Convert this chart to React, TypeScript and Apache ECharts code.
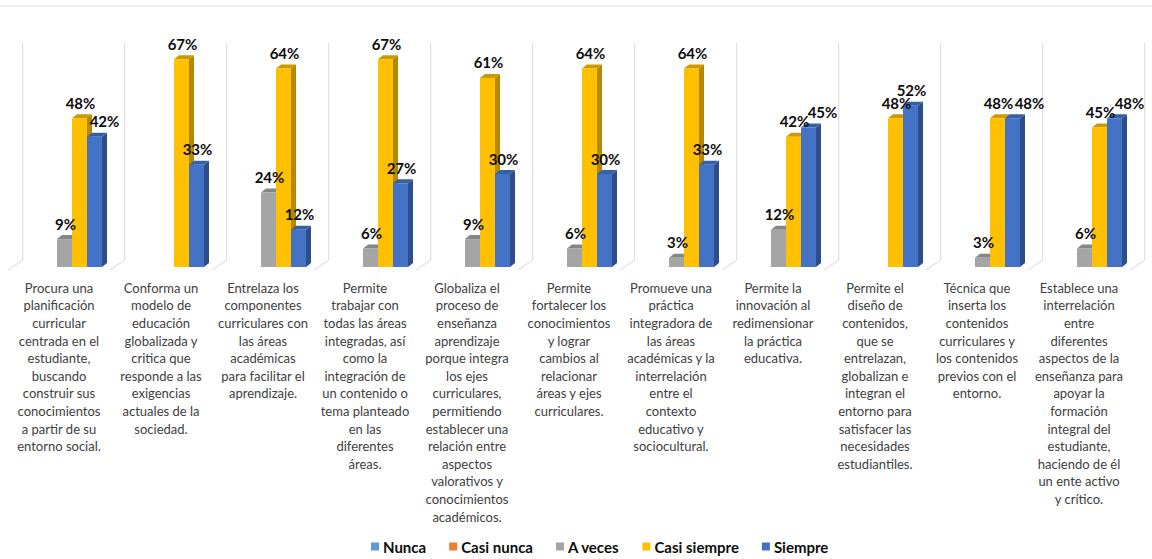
import React, { useEffect, useRef } from "react";
import * as echarts from "echarts";

const categories = [
  "Procura una\nplanificación\ncurricular\ncentrada en el\nestudiante,\nbuscando\nconstruir sus\nconocimientos\na partir de su\nentorno social.",
  "Conforma un\nmodelo de\neducación\nglobalizada y\ncritica que\nresponde a las\nexigencias\nactuales de la\nsociedad.",
  "Entrelaza los\ncomponentes\ncurriculares con\nlas áreas\nacadémicas\npara facilitar el\naprendizaje.",
  "Permite\ntrabajar con\ntodas las áreas\nintegradas, así\ncomo la\nintegración de\nun contenido o\ntema planteado\nen las\ndiferentes\náreas.",
  "Globaliza el\nproceso de\nenseñanza\naprendizaje\nporque integra\nlos ejes\ncurriculares,\npermitiendo\nestablecer una\nrelación entre\naspectos\nvalorativos y\nconocimientos\nacadémicos.",
  "Permite\nfortalecer los\nconocimientos\ny lograr\ncambios al\nrelacionar\náreas y ejes\ncurriculares.",
  "Promueve una\npráctica\nintegradora de\nlas áreas\nacadémicas y la\ninterrelación\nentre el\ncontexto\neducativo y\nsociocultural.",
  "Permite la\ninnovación al\nredimensionar\nla práctica\neducativa.",
  "Permite el\ndiseño de\ncontenidos,\nque se\nentrelazan,\nglobalizan e\nintegran el\nentorno para\nsatisfacer las\nnecesidades\nestudiantiles.",
  "Técnica que\ninserta los\ncontenidos\ncurriculares y\nlos contenidos\nprevios con el\nentorno.",
  "Establece una\ninterrelación\nentre\ndiferentes\naspectos de la\nenseñanza para\napoyar la\nformación\nintegral del\nestudiante,\nhaciendo de él\nun ente activo\ny crítico.",
];

const seriesNames = ["Nunca", "Casi nunca", "A veces", "Casi siempre", "Siempre"];
const nunca = [0, 0, 0, 0, 0, 0, 0, 0, 0, 0, 0];
const casiNunca = [0, 0, 0, 0, 0, 0, 0, 0, 0, 0, 0];
const aVeces = [9, 0, 24, 6, 9, 6, 3, 12, 0, 3, 6];
const casiSiempre = [48, 67, 64, 67, 61, 64, 64, 42, 48, 48, 45];
const siempre = [42, 33, 12, 27, 30, 30, 33, 45, 52, 48, 48];

// label nudges (px) used in the original to avoid overlaps
const siempreLabelDx = [9, 0, 0, 0, 0, 0, 0, 13, 0, 16, 14];

const yMax = 70;
const FONT = "Lato, 'Open Sans', sans-serif";

const faceColors = [
  { front: "#5B9BD5", side: "#41719C", top: "#4A86BD" },
  { front: "#ED7D31", side: "#AE5A21", top: "#C9692A" },
  { front: "#A5A5A5", side: "#7A7A7A", top: "#868686" },
  { front: "#FFC000", side: "#B58800", top: "#CC9A00" },
  { front: "#4472C4", side: "#2D4E8A", top: "#375FA5" },
];

export default function App() {
  const ref = useRef<HTMLDivElement>(null);

  useEffect(() => {
    if (!ref.current) return;
    const chart = echarts.init(ref.current, null, { renderer: "svg" });
    const allValues = [nunca, casiNunca, aVeces, casiSiempre, siempre];

    const barSeries = allValues.map((vals, s) => ({
      type: "custom",
      name: seriesNames[s],
      itemStyle: { color: faceColors[s].front },
      encode: { x: 0, y: 1 },
      data: vals.map((v, i) => [i, v]),
      renderItem: (params: any, api: any) => {
        const idx = api.value(0);
        const v = api.value(1);
        if (!v) return null;
        const base = api.coord([idx, 0]);
        const top = api.coord([idx, v]);
        const band = api.size([1, 0])[0];
        const bw = (band * 15) / 102;
        const x0 = base[0] - (band * 2) / 102 + (s - 2) * bw;
        const dx = 5;
        const dy = 4;
        const c = faceColors[s];
        const yt = top[1];
        const yb = base[1];
        const labelDx = s === 4 ? siempreLabelDx[idx] : 0;
        return {
          type: "group",
          children: [
            {
              type: "polygon",
              shape: {
                points: [
                  [x0 + bw, yt],
                  [x0 + bw + dx, yt - dy],
                  [x0 + bw + dx, yb - dy],
                  [x0 + bw, yb],
                ],
              },
              style: { fill: c.side },
            },
            {
              type: "polygon",
              shape: {
                points: [
                  [x0, yt],
                  [x0 + dx, yt - dy],
                  [x0 + bw + dx, yt - dy],
                  [x0 + bw, yt],
                ],
              },
              style: { fill: c.top },
            },
            {
              type: "rect",
              shape: { x: x0, y: yt, width: bw, height: yb - yt },
              style: { fill: c.front },
            },
            {
              type: "text",
              x: x0 + bw / 2 + 1 + labelDx,
              y: yt - 15.5,
              style: {
                text: v + "%",
                fill: "#0D0D0D",
                font: `bold 15px ${FONT}`,
                align: "center",
                verticalAlign: "middle",
              },
              z2: 10,
            },
          ],
        };
      },
    }));

    const wallSeries = {
      type: "custom",
      name: "wall",
      silent: true,
      encode: { x: 0, y: 1 },
      data: categories.map((_, i) => [i, 0]),
      renderItem: (params: any, api: any) => {
        const idx = api.value(0);
        const base = api.coord([idx, 0]);
        const topY = api.coord([idx, yMax])[1] - 7;
        const band = api.size([1, 0])[0];
        const lineStyle = { stroke: "#D9D9D9", lineWidth: 1 };
        const mk = (fx: number) => [
          {
            type: "line",
            shape: { x1: fx + 14.7, y1: topY, x2: fx + 14.7, y2: base[1] - 7 },
            style: lineStyle,
          },
          {
            type: "line",
            shape: { x1: fx + 14.7, y1: base[1] - 7, x2: fx, y2: base[1] + 3 },
            style: lineStyle,
          },
        ];
        const fx = base[0] - band / 2;
        const children: any[] = mk(fx);
        if (idx === categories.length - 1) children.push(...mk(fx + band));
        return { type: "group", children };
      },
    };

    chart.setOption({
      animation: false,
      backgroundColor: "#FFFFFF",
      grid: { left: 8, right: 22, top: 50, bottom: 292, containLabel: false },
      xAxis: {
        type: "category",
        data: categories,
        axisLine: { show: false },
        axisTick: { show: false },
        splitLine: { show: false },
        axisLabel: {
          interval: 0,
          margin: 12,
          color: "#404040",
          fontFamily: FONT,
          fontSize: 13,
          lineHeight: 17.6,
          align: "center",
        },
      },
      yAxis: {
        type: "value",
        min: 0,
        max: yMax,
        show: false,
        splitLine: { show: false },
      },
      legend: {
        data: seriesNames,
        left: 366,
        top: 534,
        icon: "rect",
        itemWidth: 8,
        itemHeight: 8,
        itemGap: 23,
        textStyle: {
          fontFamily: FONT,
          fontWeight: "bold",
          fontSize: 15,
          color: "#0D0D0D",
          padding: [0, 0, 0, -1],
        },
      },
      graphic: [
        {
          type: "line",
          shape: { x1: 0, y1: 6, x2: 1152, y2: 6 },
          style: { stroke: "#D9D9D9", lineWidth: 1 },
          silent: true,
        },
      ],
      series: [wallSeries, ...barSeries],
    });

    return () => chart.dispose();
  }, []);

  return (
    <div
      ref={ref}
      style={{ position: "fixed", left: 0, top: 0, width: 1152, height: 559, background: "#fff" }}
    />
  );
}
